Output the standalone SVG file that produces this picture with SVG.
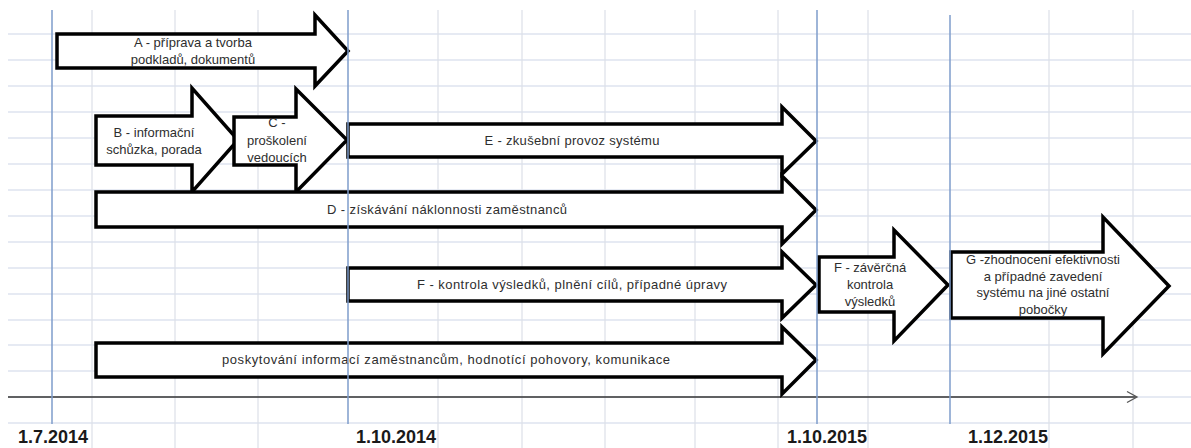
<svg xmlns="http://www.w3.org/2000/svg" width="1191" height="448" viewBox="0 0 1191 448">
<style>
.gh{stroke:#cdd6e8;stroke-width:1.2;fill:none}
.gv{stroke:#dcdfe8;stroke-width:1.2;fill:none}
.gd{stroke:#7f9dcb;stroke-width:1.5;fill:none}
.ar{fill:#fff;stroke:#000;stroke-width:3.5;stroke-linejoin:miter}
.t{font-family:"Liberation Sans",Arial,sans-serif;font-size:13px;fill:#2e2e2e;text-anchor:middle}
.d{font-family:"Liberation Sans",Arial,sans-serif;font-size:18px;font-weight:bold;fill:#1a1a1a}
</style>
<rect width="1191" height="448" fill="#fff"/>
<g id="grid">
<path class="gh" d="M8 34H1191M8 60H1191M8 86H1191M8 112H1191M8 138H1191M8 164H1191M8 190H1191M8 216H1191M8 242H1191M8 268H1191M8 294H1191M8 320H1191M8 345H1191M8 371H1191M8 397H1191M8 423H1191"/>
<path class="gv" d="M92 10V448M175 10V448M258 10V448M438 10V448M522 10V448M605 10V448M695 10V448M778 10V448M868 10V448M1049 10V448M1133 10V448"/>
</g>
<g id="axis">
<line x1="8" y1="397" x2="1136" y2="397" stroke="#333" stroke-width="1.5"/>
<polyline points="1127,391.5 1137,397 1127,402.5" fill="none" stroke="#555" stroke-width="1.3"/>
</g>
<g id="A"><polygon class="ar" points="57,34 315,34 315,15 348,51 315,86 315,68 57,68"/>
<text class="t" x="193" y="47">A - příprava a tvorba</text><text class="t" x="193" y="64">podkladů, dokumentů</text></g>
<g id="B"><polygon class="ar" points="96,116 192,116 192,88 238,140 192,192 192,165 96,165"/>
<text class="t" x="154" y="137">B - informační</text><text class="t" x="154" y="154">schůzka, porada</text></g>
<g id="C"><polygon class="ar" points="234,117 296,117 296,89 347,140 296,192 296,165 234,165"/>
<text class="t" x="277" y="127">C -</text><text class="t" x="277" y="145">proškolení</text><text class="t" x="277" y="162">vedoucích</text></g>
<g id="E"><polygon class="ar" points="348,124 782,124 782,107 816,141 782,174 782,157 348,157"/>
<text class="t" x="572" y="145" textLength="175" lengthAdjust="spacing">E - zkušební provoz systému</text></g>
<g id="D"><polygon class="ar" points="96,192 782,192 782,176 816,210 782,244 782,227 96,227"/>
<text class="t" x="447" y="214" textLength="240" lengthAdjust="spacing">D - získávání náklonnosti zaměstnanců</text></g>
<g id="F"><polygon class="ar" points="348,268 782,268 782,252 816,285 782,318 782,301 348,301"/>
<text class="t" x="572" y="289" textLength="310" lengthAdjust="spacing">F - kontrola výsledků, plnění cílů, případné úpravy</text></g>
<g id="P"><polygon class="ar" points="96,343 782,343 782,327 816,360 782,394 782,377 96,377"/>
<text class="t" x="446" y="364" textLength="448" lengthAdjust="spacing">poskytování informací zaměstnancům, hodnotící pohovory, komunikace</text></g>
<g id="Fz"><polygon class="ar" points="819,257 894,257 894,230 948,285 894,341 894,312 819,312"/>
<text class="t" x="870" y="272">F - závěrčná</text><text class="t" x="870" y="289">kontrola</text><text class="t" x="870" y="306">výsledků</text></g>
<g id="G"><polygon class="ar" points="951,252 1103,252 1103,217 1169,286 1103,354 1103,318 951,318"/>
<text class="t" x="1043" y="264">G -zhodnocení efektivnosti</text><text class="t" x="1043" y="281">a případné zavedení</text><text class="t" x="1043" y="297">systému na jiné ostatní</text><text class="t" x="1043" y="314">pobočky</text></g>
<g id="datelines">
<path class="gd" d="M52 10V424M348 10V424M817 10V424M950 15V424"/>
</g>
<g id="dates">
<text class="d" x="18" y="443">1.7.2014</text>
<text class="d" x="356" y="443">1.10.2014</text>
<text class="d" x="787" y="443">1.10.2015</text>
<text class="d" x="968" y="443">1.12.2015</text>
</g>
</svg>
